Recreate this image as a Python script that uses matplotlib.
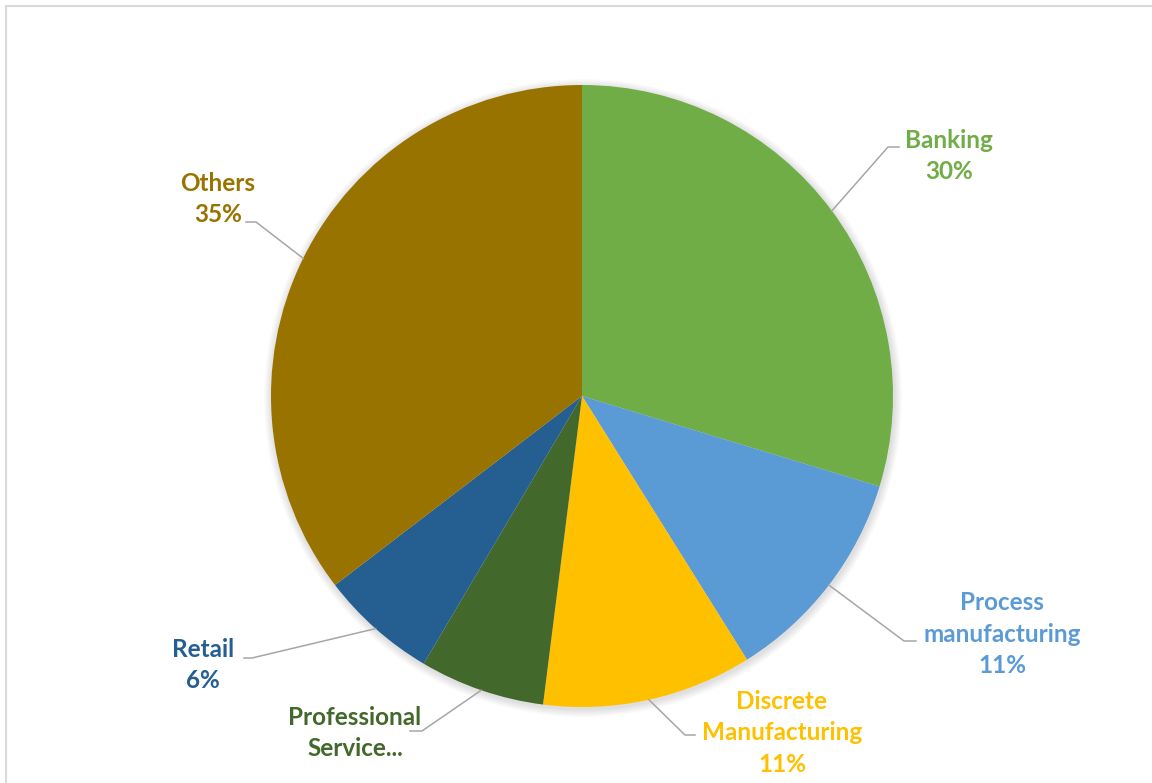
import numpy as np
import matplotlib.pyplot as plt
from matplotlib.patches import Rectangle, Circle

plt.rcParams['font.family'] = ['Lato', 'DejaVu Sans']

# industry share of the customer base (%)
sectors = ['Banking', 'Process\nmanufacturing', 'Discrete\nManufacturing',
           'Professional\nService...', 'Retail', 'Others']
shares = [29.7, 11.4, 10.9, 6.5, 6.1, 35.4]
show_pct = [True, True, True, False, True, True]
colors = ['#70AD47', '#5B9BD5', '#FFC000', '#43682B', '#255E91', '#997300']

W, H = 1152, 783
cx, cy, R = 582, H - 396, 311

# label placement: text centre, elbow of the leader, end of the leader (pixels, top-left origin)
label_xy = [(949, 156), (1002, 634), (782, 733), (355, 733), (203, 665), (218, 199)]
elbow_xy = [(888, 147), (904, 641), (685, 735), (422, 731), (252, 658), (256, 222)]
tail_xy = [(899, 147), (916, 641), (695, 735), (410, 731), (244, 658), (246, 222)]

fig = plt.figure(figsize=(W / 100, H / 100), dpi=100)
ax = fig.add_axes([0, 0, 1, 1])

# soft shadow around the pie
for i in range(8):
    ax.add_patch(Circle((cx + 1, cy - 2), R + 1 + i, color='black',
                        alpha=0.016, linewidth=0, zorder=1))

wedges, _ = ax.pie(shares, colors=colors, startangle=90, counterclock=False,
                   center=(cx, cy), radius=R, wedgeprops=dict(linewidth=0, zorder=2),
                   frame=True)
ax.set_xlim(0, W)
ax.set_ylim(0, H)
ax.set_aspect('equal')
ax.axis('off')

# chart border
ax.add_patch(Rectangle((6, -10), W + 20, H - 6 + 10, fill=False,
                       edgecolor='#D9D9D9', linewidth=1.5))

for w, name, val, pct, col, lxy, exy, txy in zip(wedges, sectors, shares, show_pct,
                                                  colors, label_xy, elbow_xy, tail_xy):
    mid = np.deg2rad((w.theta1 + w.theta2) / 2)
    px, py = cx + R * np.cos(mid), cy + R * np.sin(mid)
    ax.plot([px, exy[0], txy[0]], [py, H - exy[1], H - txy[1]],
            color='#A6A6A6', linewidth=1.1, zorder=3)
    text = f"{name}\n{val:.0f}%" if pct else name
    ax.text(lxy[0], H - lxy[1], text, color=col, fontsize=17.5, fontweight='bold',
            ha='center', va='center', linespacing=1.45, zorder=4)

fig.savefig('out.png', dpi=100, facecolor='white')
